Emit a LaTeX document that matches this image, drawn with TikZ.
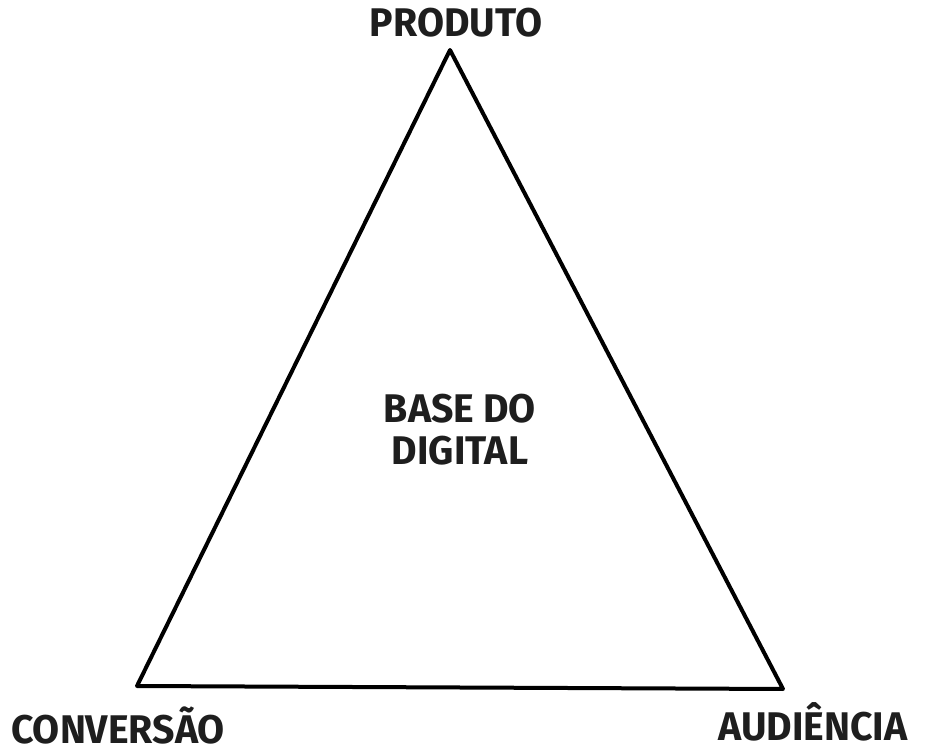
\documentclass[tikz,border=0pt]{standalone}
\usepackage{fontspec}
\setmainfont{Fira Sans}
\usepackage{graphicx}
\definecolor{ink}{RGB}{30,30,30}
\newcommand{\narrow}[1]{\scalebox{0.98}[1]{#1}}
\tikzset{every picture/.style={line width=0.75pt}}
\tikzset{label text/.style={font=\fontsize{30}{31.5}\selectfont\bfseries,text=ink,inner sep=0pt,align=center}}
\begin{document}
\begin{tikzpicture}[x=0.75pt,y=0.75pt,yscale=-1,xscale=1]
\useasboundingbox (0,0) rectangle (926,752);

% Corners
\coordinate (top) at (450,50);
\coordinate (left) at (137,686);
\coordinate (right) at (783,689);

%Shape: Triangle
\draw [line width=3pt,line join=round,line cap=round] (top) -- (right) -- (left) -- cycle ;

% Text Node
\node (produto) [label text,anchor=base] at (456,37) {\narrow{PRODUTO}};
% Text Node
\node (conversao) [label text,anchor=base] at (118,743) {\narrow{CONVERSÃO}};
% Text Node
\node (audiencia) [label text,anchor=base] at (813,740) {\narrow{AUDIÊNCIA}};
% Text Node
\node (base) [label text] at (460,430) {\narrow{BASE DO}\\\narrow{DIGITAL}};

\end{tikzpicture}
\end{document}
